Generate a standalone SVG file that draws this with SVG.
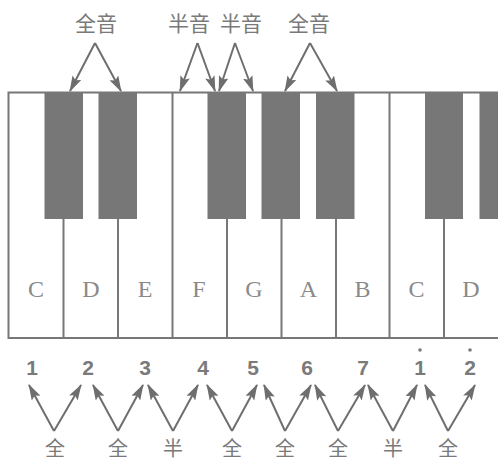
<svg xmlns="http://www.w3.org/2000/svg" width="498" height="461" viewBox="0 0 498 461">
<defs>
<marker id="ah" viewBox="0 0 16 10" refX="15" refY="5" markerWidth="16" markerHeight="10" markerUnits="userSpaceOnUse" orient="auto">
<path d="M0,0 L16,5 L0,10 L3,5 Z" fill="#6e6e6e"/>
</marker>
</defs>
<style>
.wk{fill:#fff;stroke:#777;stroke-width:2}
.bk{fill:#777;stroke:none}
.note{font-family:"Liberation Serif",serif;font-size:24px;fill:#8a8a8a;text-anchor:middle}
.num{font-family:"Liberation Sans",sans-serif;font-weight:bold;font-size:21px;fill:#7a7a7a;text-anchor:middle}
.cn{font-family:"Noto Sans CJK SC",sans-serif;font-size:21px;fill:#7a7a7a;text-anchor:middle}
.cb{font-family:"Noto Sans CJK SC",sans-serif;font-size:20px;fill:#7a7a7a;text-anchor:middle}
.ar{stroke:#6e6e6e;stroke-width:2;fill:none;marker-end:url(#ah)}
</style>
<rect width="498" height="461" fill="#fff"/>
<g id="keyboard">
<rect class="wk" x="8.5" y="92.5" width="500" height="245.5"/>
<g id="white-keys" stroke="#777" stroke-width="2">
<line x1="63.5" y1="218" x2="63.5" y2="338"/>
<line x1="118" y1="218" x2="118" y2="338"/>
<line x1="172.5" y1="92" x2="172.5" y2="338"/>
<line x1="227" y1="218" x2="227" y2="338"/>
<line x1="281.5" y1="218" x2="281.5" y2="338"/>
<line x1="336" y1="218" x2="336" y2="338"/>
<line x1="389.5" y1="92" x2="389.5" y2="338"/>
<line x1="444" y1="218" x2="444" y2="338"/>
</g>
<g id="black-keys">
<rect class="bk" x="44.5" y="92" width="38.5" height="127"/>
<rect class="bk" x="98.5" y="92" width="38.5" height="127"/>
<rect class="bk" x="207.5" y="92" width="38.5" height="127"/>
<rect class="bk" x="261.5" y="92" width="38.5" height="127"/>
<rect class="bk" x="316" y="92" width="38.5" height="127"/>
<rect class="bk" x="425" y="92" width="38" height="127"/>
<rect class="bk" x="479.5" y="92" width="20" height="127"/>
</g>
<g id="key-labels">
<text class="note" x="36" y="297">C</text>
<text class="note" x="91" y="297">D</text>
<text class="note" x="145" y="297">E</text>
<text class="note" x="199" y="297">F</text>
<text class="note" x="254" y="297">G</text>
<text class="note" x="308.5" y="297">A</text>
<text class="note" x="362.5" y="297">B</text>
<text class="note" x="416.5" y="297">C</text>
<text class="note" x="471" y="297">D</text>
</g>
</g>
<g id="top-labels">
<text class="cn" x="96" y="31">全音</text>
<text class="cn" x="189" y="31">半音</text>
<text class="cn" x="241" y="31">半音</text>
<text class="cn" x="309" y="31">全音</text>
</g>
<g id="numbers">
<text class="num" x="32" y="375">1</text>
<text class="num" x="88" y="375">2</text>
<text class="num" x="145" y="375">3</text>
<text class="num" x="203" y="375">4</text>
<text class="num" x="253" y="375">5</text>
<text class="num" x="307" y="375">6</text>
<text class="num" x="363" y="375">7</text>
<text class="num" x="420" y="375">1</text>
<text class="num" x="470" y="375">2</text>
<circle cx="420" cy="350" r="1.8" fill="#7a7a7a"/>
<circle cx="470" cy="350" r="1.8" fill="#7a7a7a"/>
</g>
<g id="bottom-labels">
<text class="cb" x="55" y="456">全</text>
<text class="cb" x="118" y="456">全</text>
<text class="cb" x="173" y="456">半</text>
<text class="cb" x="232" y="456">全</text>
<text class="cb" x="285" y="456">全</text>
<text class="cb" x="338" y="456">全</text>
<text class="cb" x="393" y="456">半</text>
<text class="cb" x="448" y="456">全</text>
</g>
<g id="connectors">
<line class="ar" x1="95" y1="43" x2="70" y2="91"/>
<line class="ar" x1="95" y1="43" x2="121" y2="91"/>
<line class="ar" x1="197.5" y1="43" x2="180" y2="91"/>
<line class="ar" x1="197.5" y1="43" x2="215" y2="91"/>
<line class="ar" x1="235" y1="43" x2="219" y2="91"/>
<line class="ar" x1="235" y1="43" x2="253" y2="91"/>
<line class="ar" x1="310" y1="43" x2="285" y2="91"/>
<line class="ar" x1="310" y1="43" x2="337" y2="91"/>
<line class="ar" x1="54" y1="431" x2="29" y2="385"/>
<line class="ar" x1="54" y1="431" x2="81" y2="385"/>
<line class="ar" x1="118" y1="431" x2="93" y2="385"/>
<line class="ar" x1="118" y1="431" x2="143" y2="385"/>
<line class="ar" x1="173" y1="431" x2="148" y2="385"/>
<line class="ar" x1="173" y1="431" x2="198" y2="385"/>
<line class="ar" x1="232" y1="431" x2="207" y2="385"/>
<line class="ar" x1="232" y1="431" x2="257" y2="385"/>
<line class="ar" x1="285" y1="431" x2="264" y2="385"/>
<line class="ar" x1="285" y1="431" x2="311" y2="385"/>
<line class="ar" x1="338" y1="431" x2="315" y2="385"/>
<line class="ar" x1="338" y1="431" x2="365" y2="385"/>
<line class="ar" x1="393" y1="431" x2="368" y2="385"/>
<line class="ar" x1="393" y1="431" x2="417" y2="385"/>
<line class="ar" x1="448" y1="431" x2="425" y2="385"/>
<line class="ar" x1="448" y1="431" x2="475" y2="385"/>
</g>
</svg>
